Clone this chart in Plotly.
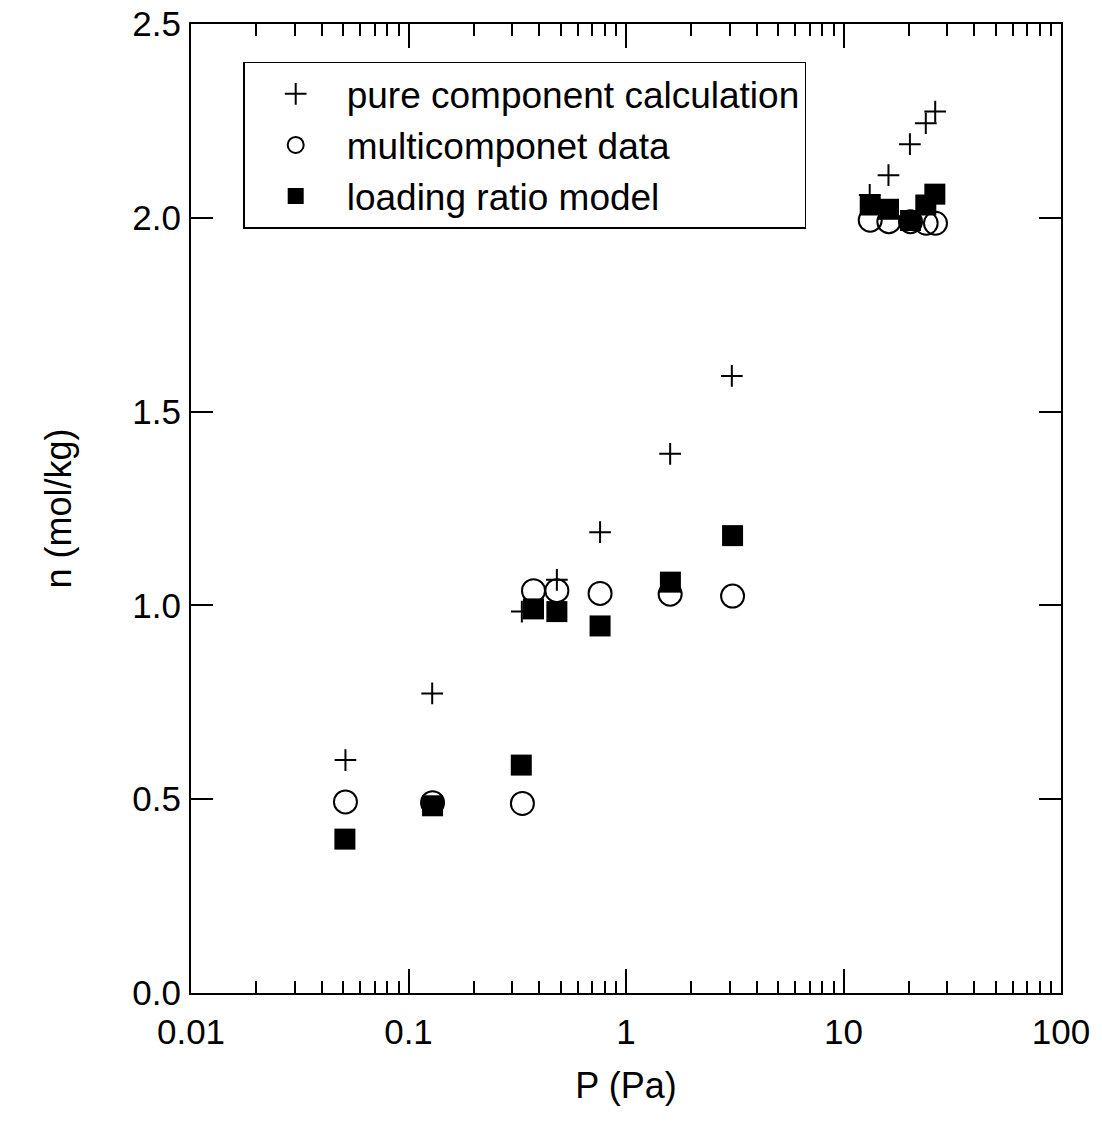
import plotly.graph_objects as go

# Pressure (Pa) and loading n (mol/kg)
pure_P = [0.0513, 0.1285, 0.332, 0.481, 0.760, 1.596, 3.066, 13.2, 16.1, 20.2, 23.9, 26.4]
pure_n = [0.601, 0.773, 0.984, 1.066, 1.189, 1.391, 1.592, 2.059, 2.110, 2.190, 2.244, 2.274]

multi_P = [0.0513, 0.1290, 0.334, 0.3756, 0.481, 0.760, 1.596, 3.09, 13.27, 16.16, 20.33, 23.99, 26.48]
multi_n = [0.493, 0.491, 0.489, 1.038, 1.038, 1.031, 1.029, 1.024, 1.994, 1.990, 1.990, 1.986, 1.986]

model_P = [0.0510, 0.1290, 0.330, 0.3756, 0.481, 0.760, 1.600, 3.09, 13.27, 16.1, 20.33, 23.9, 26.3]
model_n = [0.397, 0.483, 0.588, 0.991, 0.984, 0.947, 1.060, 1.180, 2.033, 2.022, 1.993, 2.033, 2.061]

x_tickvals = [0.01, 0.1, 1, 10, 100]
x_ticktext = ["0.01", "0.1", "1", "10", "100"]
y_tickvals = [0.0, 0.5, 1.0, 1.5, 2.0, 2.5]

FONT = "Liberation Sans, Arial, sans-serif"

fig = go.Figure()
fig.add_trace(go.Scatter(
    x=pure_P, y=pure_n, mode="markers", name="pure component calculation",
    marker=dict(symbol="cross-thin", size=15.5, color="black",
                line=dict(color="black", width=2))))
fig.add_trace(go.Scatter(
    x=multi_P, y=multi_n, mode="markers", name="multicomponet data",
    marker=dict(symbol="circle-open", size=23, color="black",
                line=dict(color="black", width=2))))
fig.add_trace(go.Scatter(
    x=model_P, y=model_n, mode="markers", name="loading ratio model",
    marker=dict(symbol="square", size=21, color="black",
                line=dict(color="black", width=0))))

fig.update_layout(
    width=1102, height=1140,
    margin=dict(l=191, r=41, t=24, b=147),
    paper_bgcolor="white", plot_bgcolor="white",
    font=dict(family=FONT, size=35, color="black"),
    showlegend=True,
    legend=dict(
        x=0.06, y=0.961, xanchor="left", yanchor="top",
        bordercolor="black", borderwidth=1.5, bgcolor="white",
        font=dict(family=FONT, size=37, color="black"),
        itemsizing="trace", tracegroupgap=0, itemwidth=92,
    ),
    xaxis=dict(
        type="log", range=[-2, 2], automargin=False,
        tickvals=x_tickvals, ticktext=x_ticktext,
        ticks="inside", ticklen=24, tickwidth=1.5, tickcolor="black",
        showline=True, linecolor="black", linewidth=2, mirror="ticks",
        showgrid=False, zeroline=False,
        ticklabelstandoff=7,
        minor=dict(ticks="inside", ticklen=12, tickwidth=1.5, tickcolor="black",
                   dtick="D1", showgrid=False),
        title=dict(text="P (Pa)", font=dict(family=FONT, size=36), standoff=23),
    ),
    yaxis=dict(
        range=[0, 2.5], automargin=False,
        tickvals=y_tickvals, tickformat=".1f",
        ticks="inside", ticklen=22, tickwidth=1.5, tickcolor="black",
        showline=True, linecolor="black", linewidth=2, mirror="ticks",
        showgrid=False, zeroline=False,
        ticklabelstandoff=1,
        title=dict(text="n (mol/kg)", font=dict(family=FONT, size=36), standoff=50),
    ),
)

fig.write_html("out.html")
